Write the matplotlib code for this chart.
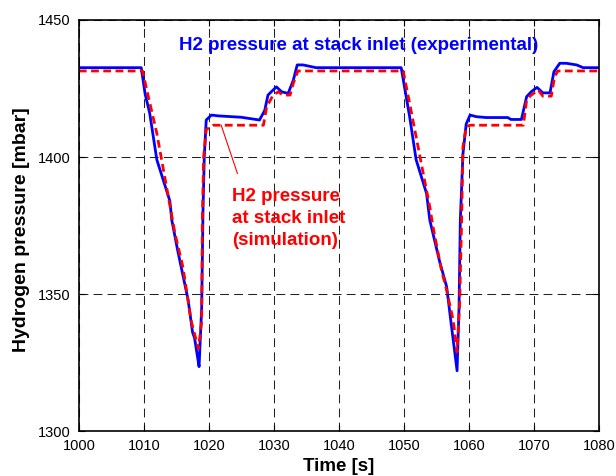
import numpy as np
import matplotlib
matplotlib.use("Agg")
import matplotlib.pyplot as plt

plt.rcParams['font.family'] = ['Liberation Sans', 'DejaVu Sans']

# experimental H2 pressure (blue)
t_exp = [1000, 1009.6, 1010.2, 1010.9, 1012.0, 1014.0, 1014.3, 1015.2, 1016.8, 1017.5, 1017.8,
         1018.2, 1018.5, 1018.9, 1019.1, 1019.3, 1019.6, 1020.4, 1021.5, 1025.0, 1027.8,
         1028.6, 1029.1, 1029.7, 1030.4, 1031.2, 1032.2, 1033.0, 1033.6, 1034.5, 1036.5,
         1049.6, 1050.9, 1051.9, 1053.5, 1054.0, 1055.5, 1056.6, 1057.3, 1058.2, 1058.5,
         1058.7, 1059.1, 1059.6, 1060.2, 1061.2, 1062.7, 1066.0, 1066.5, 1068.1, 1068.9,
         1069.6, 1070.5, 1071.4, 1072.5, 1073.1, 1074.0, 1075.0, 1076.6, 1077.6, 1080]
p_exp = [1432.6, 1432.6, 1423, 1416, 1399, 1384, 1377, 1366, 1348, 1336, 1334,
         1328, 1323.5, 1345, 1380, 1400, 1413.5, 1415.3, 1415, 1414.5, 1413.5,
         1417, 1422.6, 1424, 1425.6, 1423.8, 1423.2, 1428, 1433.6, 1433.6, 1432.6,
         1432.6, 1414.7, 1399, 1386.7, 1377, 1362, 1352.6, 1339, 1322, 1345,
         1377, 1401, 1412, 1415.3, 1414.7, 1414.4, 1414.4, 1413.7, 1413.7, 1422,
         1423.8, 1425.4, 1423.4, 1423.4, 1431.1, 1434.2, 1434.2, 1433.6, 1432.6, 1432.6]

# simulated H2 pressure (red)
t_sim = [1000, 1009.8, 1010.5, 1012.0, 1014.8, 1016.0, 1017.3, 1018.4, 1018.9, 1019.0, 1019.2,
         1019.6, 1020.7, 1028.4, 1028.9, 1029.9, 1030.7, 1031.4, 1032.5, 1033.0, 1033.7,
         1049.9, 1050.9, 1052.5, 1054.0, 1054.5, 1055.8, 1056.6, 1057.6, 1058.2, 1058.6,
         1058.9, 1059.1, 1059.6, 1060.2, 1068.4, 1068.9, 1069.6, 1070.7, 1071.4, 1072.7,
         1073.2, 1073.7, 1080]
p_sim = [1431.4, 1431.4, 1424, 1408.6, 1372, 1360, 1340, 1330, 1340, 1377, 1400,
         1410, 1411.6, 1411.6, 1418.3, 1422.6, 1423.8, 1422.6, 1422.6, 1426.9, 1431.4,
         1431.4, 1419.6, 1400, 1381.8, 1374.5, 1358.7, 1351.3, 1340.4, 1328.8, 1346.7,
         1377, 1403.7, 1411, 1411.6, 1411.6, 1420.8, 1422.6, 1424.4, 1422.2, 1422.2,
         1429.3, 1431.4, 1431.4]

fig = plt.figure(figsize=(6.16, 4.76), dpi=100)
ax = fig.add_axes([0.128, 0.0945, 0.844, 0.8635])

ax.plot(t_exp, p_exp, color='#0000ff', lw=2.0)
ax.plot(t_sim, p_sim, color='#ff0000', lw=2.0, ls=(0, (2.8, 1.6)))

ax.set_xlim(1000, 1080)
ax.set_ylim(1300, 1450)
ax.set_xticks(np.arange(1000, 1081, 10))
ax.set_yticks([1300, 1350, 1400, 1450])
ax.grid(True, color='#222222', ls=(0, (8.5, 5)), lw=0.75)
ax.tick_params(direction='in', top=True, right=True, labelsize=10.5, length=4, pad=6)
for s in ax.spines.values():
    s.set_linewidth(1.2)

ax.set_xlabel('Time [s]', fontsize=13.5, fontweight='bold')
ax.set_ylabel('Hydrogen pressure [mbar]', fontsize=14, fontweight='bold')
ax.xaxis.set_label_coords(0.5, -0.087)
ax.xaxis.label.set_va('center')
ax.yaxis.set_label_coords(-0.11, 0.49)
ax.yaxis.label.set_va('center')

ax.text(1015.4, 1440.6, 'H2 pressure at stack inlet (experimental)', color='#0000ff',
        fontsize=13.5, fontweight='bold', va='center', ha='left')
ax.text(1023.6, 1377.5, 'H2 pressure\nat stack inlet\n(simulation)', color='#ff0000',
        fontsize=13.5, fontweight='bold', va='center', ha='left', linespacing=1.38)
ax.plot([1021.9, 1024.4], [1411.6, 1394], color='#ff0000', lw=0.8)

fig.savefig('out.png', dpi=100)
